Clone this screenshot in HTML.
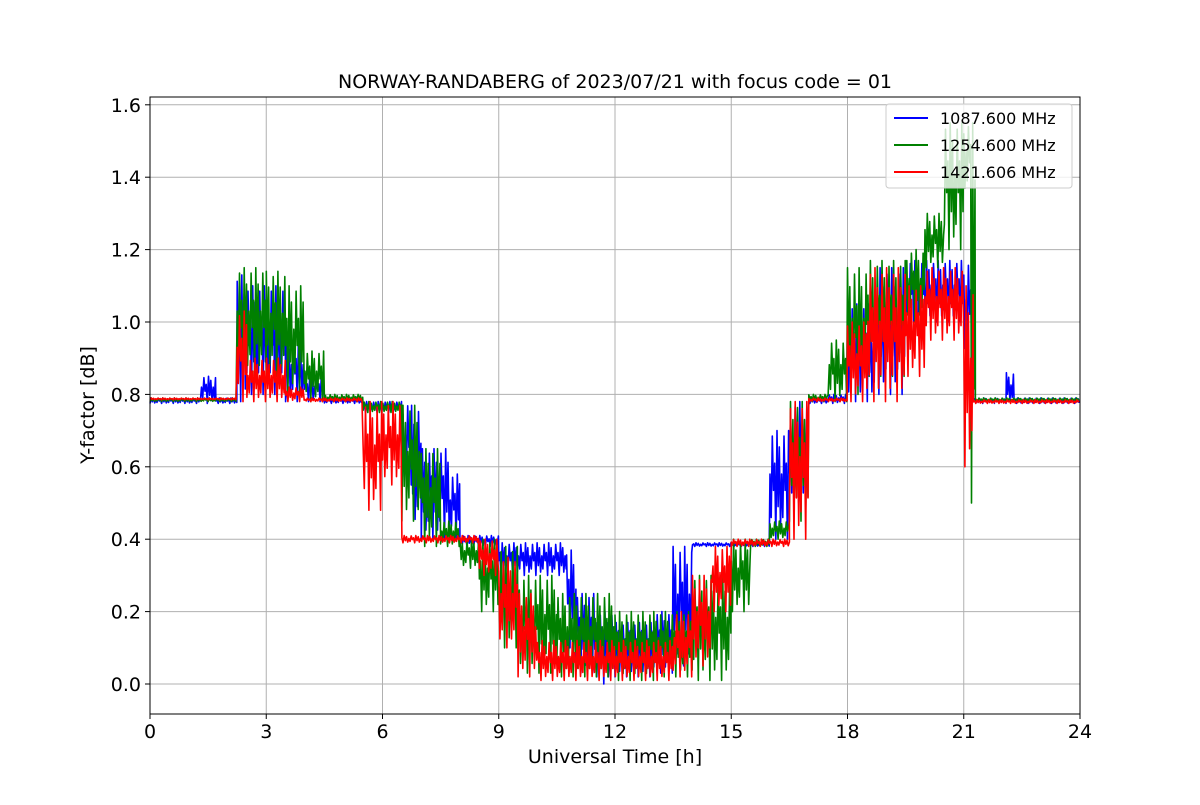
<!DOCTYPE html>
<html><head><meta charset="utf-8"><style>
body{margin:0;background:#fff;}
svg text{font-family:"DejaVu Sans","Liberation Sans",sans-serif;}
</style></head><body>
<svg id="chart" width="1200" height="800" xmlns="http://www.w3.org/2000/svg">
<rect width="1200" height="800" fill="#fff"/>
<g id="grid"></g>
<g id="series"></g>
<rect x="150" y="97" width="930" height="617" fill="none" stroke="#000" stroke-width="1"/>
<g id="ticks"></g>
<text x="615" y="88" font-size="19" text-anchor="middle">NORWAY-RANDABERG of 2023/07/21 with focus code = 01</text>
<text x="615" y="763" font-size="19" text-anchor="middle">Universal Time [h]</text>
<text transform="translate(94,405) rotate(-90)" font-size="19" text-anchor="middle">Y-factor [dB]</text>
<g>
<rect x="886" y="104" width="186" height="84" rx="3" fill="#fff" fill-opacity="0.8" stroke="#ccc"/>
<line x1="894" y1="118" x2="928" y2="118" stroke="#0000ff" stroke-width="2"/>
<text x="940" y="124" font-size="16">1087.600 MHz</text>
<line x1="894" y1="145" x2="928" y2="145" stroke="#008000" stroke-width="2"/>
<text x="940" y="151" font-size="16">1254.600 MHz</text>
<line x1="894" y1="172" x2="928" y2="172" stroke="#ff0000" stroke-width="2"/>
<text x="940" y="178" font-size="16">1421.606 MHz</text>
</g>
</svg>
<script>
const xTicks=[0,3,6,9,12,15,18,21,24];
const yTicks=[0.0,0.2,0.4,0.6,0.8,1.0,1.2,1.4,1.6];
// segments: start hour, low value, high value
const blueStart=[0,1.3,1.7,2.25,2.5,3.5,4,4.5,5.5,6.5,6.75,7,7.75,8,9,10.75,11,11.5,12,13,13.5,14,16,16.5,17,17.5,18,18.75,19.5,21,21.25,22.1,22.3];
const blueLo=[0.775,0.775,0.775,0.78,0.80,0.78,0.78,0.775,0.75,0.55,0.42,0.40,0.40,0.38,0.30,0.10,0.03,0.00,0.02,0.03,0.05,0.38,0.40,0.50,0.775,0.775,0.78,0.80,1.00,0.90,0.775,0.775,0.775];
const blueHi=[0.79,0.85,0.79,1.13,1.10,0.95,0.85,0.79,0.78,0.78,0.77,0.65,0.58,0.41,0.39,0.37,0.25,0.20,0.17,0.20,0.38,0.39,0.70,0.78,0.79,0.80,1.05,1.15,1.17,1.17,0.79,0.86,0.79];
const greenStart=[0,2.25,3,3.5,4,4.5,5.5,6.5,7,7.5,8,8.5,9,9.5,10.5,12,13,14,15,15.5,16,16.5,17,17.5,18,18.5,19.5,20,20.5,21,21.2,21.3];
const greenLo=[0.78,0.85,0.85,0.80,0.78,0.78,0.75,0.45,0.38,0.38,0.32,0.20,0.10,0.03,0.02,0.01,0.02,0.01,0.20,0.38,0.40,0.45,0.78,0.78,0.80,0.85,1.00,1.15,1.20,1.35,0.50,0.78];
const greenHi=[0.79,1.15,1.14,1.10,0.92,0.80,0.78,0.77,0.65,0.45,0.40,0.40,0.38,0.30,0.25,0.20,0.20,0.30,0.40,0.40,0.45,0.78,0.80,0.95,1.15,1.17,1.20,1.30,1.55,1.55,1.55,0.79];
const redStart=[0,2.25,2.5,3.5,4,5.5,6,6.5,8.5,9,9.5,10,13.5,14,14.5,15,16.5,17,18,18.5,19.5,20,21,21.25];
const redLo=[0.785,0.78,0.78,0.78,0.78,0.48,0.55,0.39,0.30,0.10,0.02,0.01,0.02,0.05,0.20,0.38,0.40,0.78,0.78,0.78,0.85,0.95,0.60,0.775];
const redHi=[0.79,1.03,0.90,0.82,0.79,0.78,0.78,0.41,0.40,0.35,0.25,0.12,0.20,0.30,0.38,0.40,0.78,0.79,1.00,1.15,1.10,1.15,1.10,0.785];

const X0=150,X1=1080,Y0=684,PY=362;
const xs=h=>X0+(X1-X0)*h/24;
const ys=v=>Y0-v*PY;
const NS="http://www.w3.org/2000/svg";
const grid=document.getElementById('grid'),ticks=document.getElementById('ticks'),ser=document.getElementById('series');
function mk(tag,attrs,parent){const e=document.createElementNS(NS,tag);for(const k in attrs)e.setAttribute(k,attrs[k]);parent.appendChild(e);return e;}
xTicks.forEach(t=>{
  const gl=mk('line',{x1:xs(t),x2:xs(t),y1:97,y2:714,stroke:'#b0b0b0','stroke-width':1},grid);
  
  
  mk('line',{x1:xs(t),x2:xs(t),y1:714,y2:719,stroke:'#000'},ticks);
  const tx=mk('text',{x:xs(t),y:738,'font-size':19,'text-anchor':'middle'},ticks);
  tx.textContent=t;
  
  
});
yTicks.forEach(t=>{
  const gl=mk('line',{x1:150,x2:1080,y1:ys(t),y2:ys(t),stroke:'#b0b0b0','stroke-width':1},grid);
  
  
  mk('line',{x1:145,x2:150,y1:ys(t),y2:ys(t),stroke:'#000'},ticks);
  const tx=mk('text',{x:141,y:ys(t)+7,'font-size':19,'text-anchor':'end'},ticks);
  tx.textContent=t.toFixed(1);
  
  
});
const tex=[0,1,0.3,0.85,0.1,0.6,0.2,0.95,0.45,0.7];
function draw(starts,lo,hi,color,name){
  let pts=[],k=0;
  for(let i=0;i<starts.length;i++){
    const s=starts[i],e=(i+1<starts.length)?starts[i+1]:24;
    for(let h=s;h<e;h+=0.03){
      const f=tex[k++%tex.length];
      pts.push(xs(h).toFixed(1)+','+ys(lo[i]+(hi[i]-lo[i])*f).toFixed(1));
    }
  }
  const p=mk('polyline',{points:pts.join(' '),fill:'none',stroke:color,'stroke-width':1.6,'stroke-linejoin':'round'},ser);
  
  
}
draw(blueStart,blueLo,blueHi,'#0000ff','series-1087-mhz');
draw(greenStart,greenLo,greenHi,'#008000','series-1254-mhz');
draw(redStart,redLo,redHi,'#ff0000','series-1421-mhz');
</script>
</body></html>
